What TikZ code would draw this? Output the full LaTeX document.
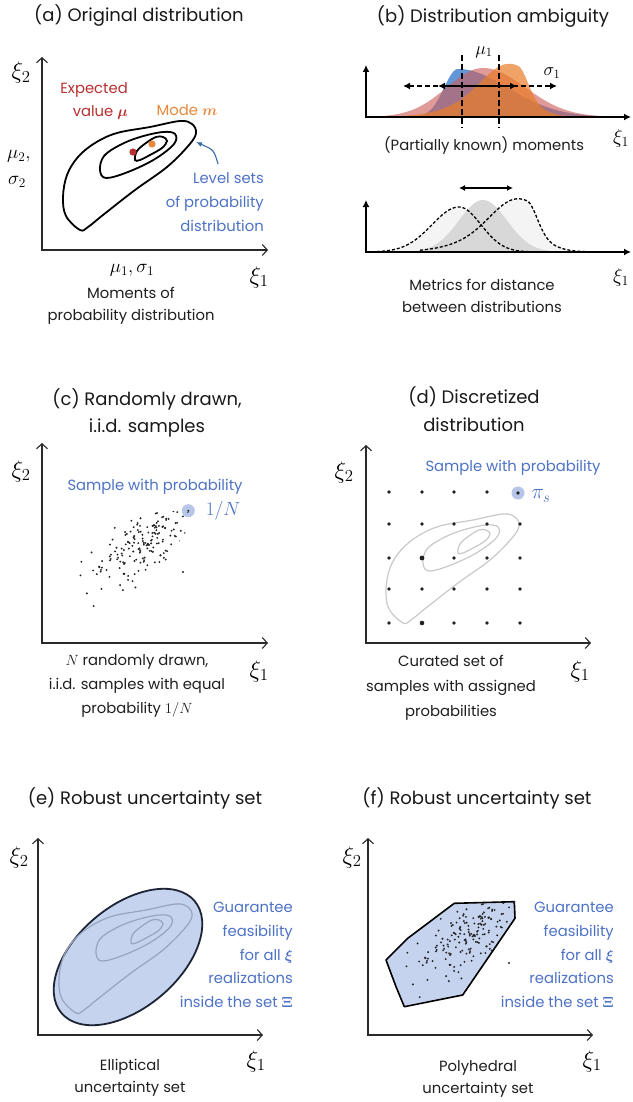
\RequirePackage{fix-cm}
\documentclass[tikz,border=0pt]{standalone}
\usepackage{fontspec}
\setmainfont{Poppins}
\usepackage{bm}
\usetikzlibrary{arrows.meta}
\definecolor{axcol}{HTML}{2A2A2A}
\definecolor{redt}{HTML}{B83030}
\definecolor{orat}{HTML}{E8883C}
\definecolor{bluet}{HTML}{4D72C6}
\definecolor{hl}{HTML}{B7C6E8}
\definecolor{setfill}{HTML}{C6D3EE}
\definecolor{ellcol}{HTML}{1C2436}
\definecolor{dblue}{RGB}{40,110,200}
\definecolor{dred}{RGB}{205,95,90}
\definecolor{dora}{RGB}{235,125,40}
\definecolor{lgray}{HTML}{C9C9C9}
\definecolor{egray}{HTML}{98A4BC}
\definecolor{gfill}{HTML}{D8D8D8}
\definecolor{gfaint}{HTML}{F4F4F4}
\definecolor{dotcol}{HTML}{222222}
\newcommand\titlefont{\fontsize{18}{27.5}\selectfont}
\newcommand\bodyfont{\fontsize{14.8}{22.5}\selectfont}
\newcommand\bluefont{\fontsize{14.8}{23.7}\selectfont}
\newcommand\xifont{\fontsize{24}{28}\selectfont}
\newcommand\mlfont{\fontsize{19}{22}\selectfont}
\tikzset{
  ttl/.style={font=\titlefont, align=center, inner sep=0pt, text=black!90},
  lbl/.style={font=\bodyfont, align=center, inner sep=0pt, text=black!88},
  bluelbl/.style={font=\bluefont, text=bluet, inner sep=0pt},
  xil/.style={font=\xifont, inner sep=0pt},
  mlbl/.style={font=\mlfont, inner sep=0pt},
  axes/.style={line width=1.3pt, draw=axcol, line join=miter,
    {Straight Barb[length=5pt,width=11pt,line width=1.1pt]}-{Straight Barb[length=5pt,width=11pt,line width=1.1pt]}},
  baxes/.style={line width=1.6pt, draw=black, line join=miter,
    {Latex[length=7pt,width=7pt]}-{Latex[length=7pt,width=7pt]}},
  dasharr/.style={line width=1.5pt, dash pattern=on 5pt off 3pt,
    {Latex[length=7pt,width=7pt]}-{Latex[length=7pt,width=7pt]}},
  solidarr/.style={line width=1.8pt, {Latex[length=7pt,width=7pt]}-{Latex[length=7pt,width=7pt]}},
  vdash/.style={line width=1.3pt, dash pattern=on 6pt off 3pt},
  dcurve/.style={line width=1.3pt, dash pattern=on 3pt off 2pt},
  levelsets/.pic={
    \draw[pic actions] plot[smooth cycle, tension=0.6] coordinates {(80,230) (66,216) (63,197) (67,175) (78,157) (95,143) (117,133) (150,127) (180,121) (192,124) (196,133) (189,145) (167,167) (135,190) (103,215) (88,227)};
    \draw[pic actions] plot[smooth cycle, tension=0.6] coordinates {(100,170) (104,156) (120,145) (140,137) (163,132) (175,134) (174,144) (155,159) (128,172) (106,178)};
    \draw[pic actions] plot[smooth cycle, tension=0.6] coordinates {(135,160) (137,151) (146,143) (156,137) (163,137) (167,141) (162,148) (150,155) (140,160)};
  },
  scatterpic/.pic={
    \begin{scope}
      \clip (128.3,512.3) -- (188.3,510.7) -- (189,527.3) -- (136.7,604) -- (78.3,615.7) -- (70,595.7) -- (60,569) -- (81.7,547.3) -- cycle;
      \pgfmathsetseed{4242}
      \foreach \i in {1,...,175}{
        \pgfmathsetmacro\scU{rand+rand+rand}
        \pgfmathsetmacro\scV{rand+rand+rand}
        \pgfmathsetmacro\scA{(\scU<0) ? 34*(\scU) : 22*(\scU)}
        \pgfmathsetmacro\scX{147+0.78*\scA+0.62*12.5*(\scV)}
        \pgfmathsetmacro\scY{540-0.62*\scA+0.78*12.5*(\scV)}
        \fill[dotcol] (\scX,\scY) circle[radius=1.05pt];
      }
    \end{scope}
    \fill[dotcol] (188.3,510.7) circle[radius=1.05pt];
    \fill[dotcol] (183,572) circle[radius=1.05pt];
  }
}
\begin{document}
\begin{tikzpicture}[x=1pt,y=-1pt,
  declare function={gs(\x,\m,\s)=exp(-min(0.5*((\x-\m)/\s)^2,12));
    sk(\x,\m,\l,\r)=exp(-min(0.5*((\x-\m)/(\l*(\x<\m)+\r*(\x>=\m)))^2,12));}]
\useasboundingbox (0,0) rectangle (632,1102);
\fill[white] (0,0) rectangle (632,1102);

% ---------------- (a)
\node[ttl] (ta) at (139,16) {(a) Original distribution};
\pic[draw=black, line width=1.8pt] at (0,0) {levelsets};
\fill[redt] (133,152) circle[radius=3.6pt];
\fill[orat] (152,144) circle[radius=3.6pt];
\draw[axes] (42,57) -- (42,250) -- (268,250);
\node[xil] (ax2) at (21,73) {$\xi_2$};
\node[xil] (ax1) at (259,277) {$\xi_1$};
\node[font=\bodyfont, text=redt, align=right, anchor=east, inner sep=0pt] (ev) at (128,101) {Expected\\value $\bm{\mu}$};
\node[font=\bodyfont, text=orat, inner sep=0pt] (mo) at (187,110) {Mode $\bm{m}$};
\node[mlbl, anchor=west] (m2) at (7,156) {$\mu_2,$};
\node[mlbl, anchor=west] (s2) at (8,182) {$\sigma_2$};
\node[mlbl] (m1) at (132,270) {$\mu_1,\sigma_1$};
\node[bluelbl, align=right, anchor=east] (lvl) at (264,202) {Level sets\\of probability\\distribution};
\coordinate (arS) at (218,164);
\coordinate (arE) at (196,142);
\draw[color=bluet!85!cyan!80!black, line width=1.1pt, -{Latex[length=6pt,width=5pt]}] (arS) .. controls (214,150) .. (arE);
\node[lbl] (la) at (131,306) {Moments of\\probability distribution};

% ---------------- (b)
\node[ttl] (tb) at (493,17) {(b) Distribution ambiguity};
\fill[dblue, fill opacity=0.72] plot[domain=366:626, samples=160] (\x,{117-48*sk(\x,458,14,50)}) -- cycle;
\fill[dred, fill opacity=0.62] plot[domain=366:626, samples=160] (\x,{117-49*sk(\x,483,36,42)}) -- cycle;
\fill[dora, fill opacity=0.7] plot[domain=366:626, samples=200] (\x,{117-(30*sk(\x,518,45,10)+24*gs(\x,506,24))}) -- cycle;
\draw[baxes] (366,65) -- (366,117) -- (631,117);
\draw[vdash] (462,55) -- (462,128);
\draw[vdash] (499,55) -- (499,128);
\coordinate (dL) at (403,86); \coordinate (dR) at (557,86);
\coordinate (sL) at (438,86); \coordinate (sR) at (517,86);
\draw[dasharr] (dL) -- (dR);
\draw[solidarr] (sL) -- (sR);
\node[font=\fontsize{18}{20}\selectfont, inner sep=0pt] (mub) at (484,52) {$\mu_1$};
\node[font=\fontsize{18}{20}\selectfont, inner sep=0pt] (sgb) at (552,73) {$\sigma_1$};
\node[font=\fontsize{20}{22}\selectfont, inner sep=0pt] (bx1) at (621,139) {$\xi_1$};
\node[lbl] (lb1) at (484,145) {(Partially known) moments};

\fill[gfaint] plot[domain=366:626, samples=160] (\x,{252-45*sk(\x,459,27,22)}) -- cycle;
\fill[gfaint] plot[domain=366:626, samples=200] (\x,{252-(30*sk(\x,527,45,10)+24*gs(\x,515,24))}) -- cycle;
\fill[gfill] plot[domain=366:626, samples=160] (\x,{252-52*gs(\x,483,24)}) -- cycle;
\draw[dcurve] plot[domain=372:600, samples=160] (\x,{252-45*sk(\x,459,27,22)});
\draw[dcurve] plot[domain=420:600, samples=200] (\x,{252-(30*sk(\x,527,45,10)+24*gs(\x,515,24))});
\draw[baxes] (366,200) -- (366,252) -- (631,252);
\coordinate (mL) at (459,188); \coordinate (mR) at (513,188);
\draw[line width=1.3pt, {Latex[length=6pt,width=6pt]}-{Latex[length=6pt,width=6pt]}] (mL) -- (mR);
\node[font=\fontsize{20}{22}\selectfont, inner sep=0pt] (bx2) at (621,277) {$\xi_1$};
\node[lbl] (lb2) at (482,296) {Metrics for distance\\between distributions};

% ---------------- (c)
\node[ttl] (tc) at (147,413) {(c) Randomly drawn,\\i.i.d. samples};
\fill[hl] (188.3,510.7) circle[radius=6.5pt];
\pic at (0,0) {scatterpic};
\draw[axes] (42,443) -- (42,643) -- (268,643);
\node[xil] (cx2) at (21,471) {$\xi_2$};
\node[xil] (cx1) at (259,671) {$\xi_1$};
\node[bluelbl] (sc) at (155,487) {Sample with probability};
\node[bluelbl, font=\fontsize{19}{22}\selectfont] (scn) at (223,511) {$1/N$};
\node[lbl, font=\fontsize{14.8}{24}\selectfont] (lc) at (137,686) {$N$ randomly drawn,\\i.i.d. samples with equal\\probability $1/N$};

% ---------------- (d)
\node[ttl] (td) at (474,409) {(d) Discretized\\distribution};
\pic[draw=lgray, line width=1.2pt] at (323,393) {levelsets};
\foreach \gx in {389,422,454,487,520}{
  \foreach \gy in {524,558,589,623}{
    \fill[dotcol] (\gx,\gy) circle[radius=1.9pt];
  }
}
\foreach \gx in {389,422,454,487}{
  \fill[dotcol] (\gx,492) circle[radius=1.9pt];
}
\fill[dotcol] (422,558) circle[radius=2.4pt];
\fill[dotcol] (422,623) circle[radius=2.3pt];
\fill[hl] (518,493) circle[radius=6.5pt];
\fill[dotcol] (518,493) circle[radius=1.9pt];
\draw[axes] (366,445) -- (366,643) -- (591,643);
\node[xil] (dx2) at (344,472) {$\xi_2$};
\node[xil] (dx1) at (580,671) {$\xi_1$};
\node[bluelbl] (sd) at (513,468) {Sample with probability};
\node[bluelbl, font=\fontsize{21}{22}\selectfont] (sdp) at (541,496) {$\pi_s$};
\node[lbl, font=\fontsize{14.8}{25}\selectfont] (ld) at (451,688) {Curated set of\\samples with assigned\\probabilities};

% ---------------- (e)
\node[ttl] (te) at (145,798) {(e) Robust uncertainty set};
\filldraw[fill=setfill, draw=ellcol, line width=1.8pt, rotate around={40:(128,957)}] (128,957) ellipse [x radius=87pt, y radius=51pt];
\pic[draw=egray, line width=1.2pt] at (-4,783) {levelsets};
\draw[axes] (38,838) -- (38,1035) -- (263,1035);
\node[xil] (ex2) at (19,857) {$\xi_2$};
\node[xil] (ex1) at (256,1061) {$\xi_1$};
\node[bluelbl, align=right, anchor=east] (ge) at (293,955) {Guarantee\\feasibility\\for all $\bm{\xi}$\\realizations\\inside the set $\bm{\Xi}$};
\node[lbl, font=\fontsize{14.8}{21.5}\selectfont] (le) at (130,1078) {Elliptical\\uncertainty set};

% ---------------- (f)
\node[ttl] (tf) at (477,798) {(f) Robust uncertainty set};
\begin{scope}[shift={(326,391)}]
  \filldraw[fill=setfill, draw=black, line width=1.6pt, line join=round] (128.3,512.3) -- (188.3,510.7) -- (189,527.3) -- (136.7,604) -- (78.3,615.7) -- (70,595.7) -- (60,569) -- (81.7,547.3) -- cycle;
  \pic at (0,0) {scatterpic};
\end{scope}
\draw[axes] (368,838) -- (368,1035) -- (593,1035);
\node[xil] (fx2) at (352,857) {$\xi_2$};
\node[xil] (fx1) at (592,1061) {$\xi_1$};
\node[bluelbl, align=right, anchor=east] (gf) at (614,955) {Guarantee\\feasibility\\for all $\bm{\xi}$\\realizations\\inside the set $\bm{\Xi}$};
\node[lbl, font=\fontsize{14.8}{22}\selectfont] (lf) at (478,1079) {Polyhedral\\uncertainty set};
\end{tikzpicture}
\end{document}
